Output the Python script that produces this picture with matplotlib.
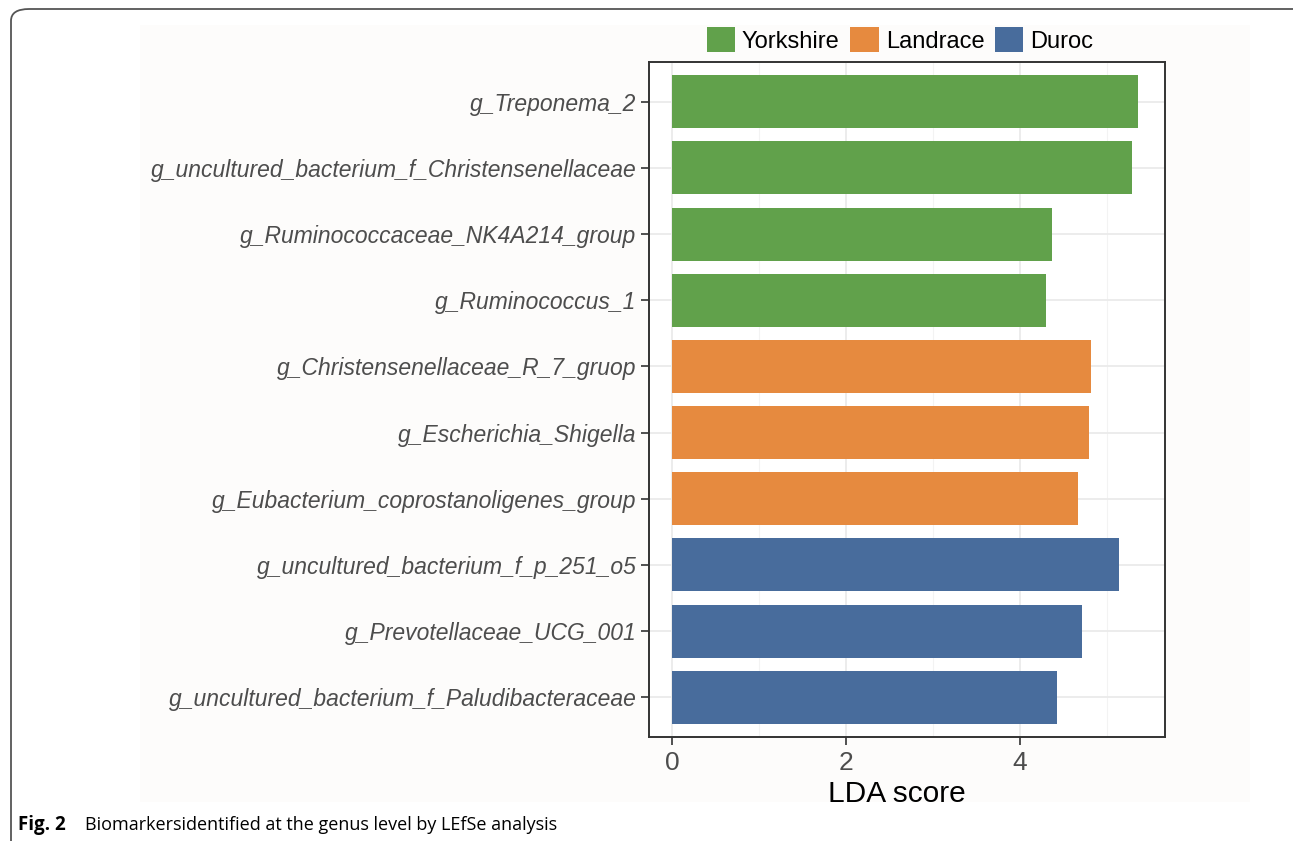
import matplotlib
matplotlib.use("Agg")
import matplotlib.pyplot as plt
from matplotlib.patches import Patch, FancyBboxPatch, Rectangle

plt.rcParams['font.family'] = ['Liberation Sans', 'DejaVu Sans']

# LEfSe genus-level biomarkers (top to bottom)
genera = ["g_Treponema_2",
          "g_uncultured_bacterium_f_Christensenellaceae",
          "g_Ruminococcaceae_NK4A214_group",
          "g_Ruminococcus_1",
          "g_Christensenellaceae_R_7_gruop",
          "g_Escherichia_Shigella",
          "g_Eubacterium_coprostanoligenes_group",
          "g_uncultured_bacterium_f_p_251_o5",
          "g_Prevotellaceae_UCG_001",
          "g_uncultured_bacterium_f_Paludibacteraceae"]
lda = [5.36, 5.29, 4.37, 4.30, 4.82, 4.79, 4.67, 5.14, 4.71, 4.43]
group = ["Yorkshire"] * 4 + ["Landrace"] * 3 + ["Duroc"] * 3
breeds = ["Yorkshire", "Landrace", "Duroc"]
colors = {"Yorkshire": "#61a14b", "Landrace": "#e68a3f", "Duroc": "#486c9c"}

fig = plt.figure(figsize=(12.93, 8.41), dpi=100)

# journal frame + light plot background
fig.patches.append(Rectangle((140/1293, 1-802/841), 1110/1293, 777/841,
                             transform=fig.transFigure, facecolor="#fdfcfb",
                             edgecolor="none", zorder=-2))
fig.patches.append(FancyBboxPatch((11/1293, -0.05), 1.2, 1-9/841+0.05,
                                  boxstyle="round,pad=0,rounding_size=0.014",
                                  transform=fig.transFigure, facecolor="none",
                                  edgecolor="#555555", linewidth=1.3, zorder=-1))

ax = fig.add_axes([649/1293, 1-737/841, 516/1293, 675/841])
ax.set_zorder(3)
ax.set_facecolor("white")
y = list(range(len(genera)))
ax.barh(y, lda, height=0.8, color=[colors[g] for g in group], zorder=3)
ax.set_ylim(len(genera) - 1 + 0.6, -0.6)
ax.set_xlim(-0.27, 5.67)
ax.set_yticks(y)
ax.set_yticklabels(genera, fontstyle="italic", fontsize=16.5, color="#4d4d4d")
ax.set_xticks([0, 2, 4])
ax.set_xticks([1, 3, 5], minor=True)
ax.tick_params(axis="x", labelsize=19, colors="#333333", labelcolor="#4d4d4d",
               length=6, width=1.2, pad=4)
ax.tick_params(axis="x", which="minor", length=0)
ax.tick_params(axis="y", colors="#333333", labelcolor="#4d4d4d",
               length=6, width=1.2, pad=3)
ax.grid(True, which="major", color="#ebebeb", linewidth=1.3, zorder=0)
ax.grid(True, which="minor", axis="x", color="#f3f3f3", linewidth=0.8, zorder=0)
for s in ax.spines.values():
    s.set_color("#333333")
    s.set_linewidth(1.4)
ax.set_axisbelow(True)
ax.set_xlabel("LDA score", fontsize=21.5, color="black", labelpad=2)
ax.xaxis.set_label_coords(0.48, -0.063)

handles = [Patch(facecolor=colors[b], edgecolor="none", label=b) for b in breeds]
fig.legend(handles=handles, loc="center", bbox_to_anchor=(900/1293, 1-40/841),
           ncol=3, frameon=False, fontsize=17, handlelength=1.2,
           handleheight=1.2, handletextpad=0.3, columnspacing=0.45,
           borderaxespad=0)

fig.text(18/1293, 1-825/841, "Fig. 2", fontsize=13.5, fontweight="bold",
         family=["Open Sans", "DejaVu Sans"], va="center")
fig.text(85/1293, 1-825/841, "Biomarkersidentified at the genus level by LEfSe analysis",
         fontsize=13, family=["Open Sans", "DejaVu Sans"], va="center")

fig.savefig("out.png", dpi=100)
